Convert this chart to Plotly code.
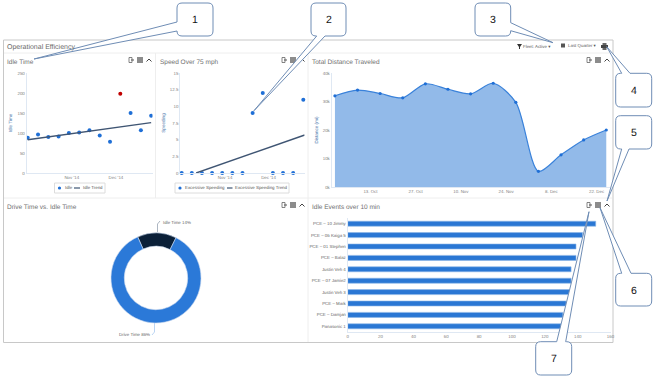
import plotly.graph_objects as go

W, H = 654, 377
FONT = "Liberation Sans"

# ---------- data ----------
weeks = ["2014-10-02", "2014-10-09", "2014-10-16", "2014-10-23", "2014-10-30", "2014-11-06", "2014-11-13",
         "2014-11-20", "2014-11-27", "2014-12-04", "2014-12-11", "2014-12-18", "2014-12-25"]
idle_values = [88, 96, 90, 91, 100, 101, 107, 94, 78, 198, 150, 107, 143]
idle_colors = ["#1f6fd6"] * 9 + ["#c00000"] + ["#1f6fd6"] * 3
idle_trend_x = ["2014-10-02", "2014-12-25"]
idle_trend_y = [83, 126]

speed_values = [0, 0, 0, 0, 0, 0, 0, 9, 12, 0, 0, 0, 11]
speed_trend_x = ["2014-10-12", "2014-12-26"]
speed_trend_y = [0, 5.7]

distance_values = [32000, 34000, 32800, 31300, 36200, 34300, 32700, 36400, 29700, 5500, 11300, 16500, 20000]
distance_ticks = ["2014-10-13", "2014-10-27", "2014-11-10", "2014-11-24", "2014-12-08", "2014-12-22"]
distance_labels = ["13. Oct", "27. Oct", "10. Nov", "24. Nov", "8. Dec", "22. Dec"]

month_ticks = ["2014-11-01", "2014-12-01"]
month_labels = ["Nov '14", "Dec '14"]

donut_labels = ["Idle Time", "Drive Time"]
donut_values = [14, 86]

vehicles = ["PCE – 10 Jimmy", "PCE – 06 Kaiga 5", "PCE – 01 Stephen", "PCE – Balaz", "Justin Veh 4",
            "PCE – 07 Jamie2", "Justin Veh 3", "PCE – Mark", "PCE – Damjan", "Panasonic 1"]
events = [151, 143, 139, 139, 136, 136, 135, 133, 131, 130]

titles = ["Operational Efficiency", "Idle Time", "Speed Over 75 mph", "Total Distance Traveled",
          "Drive Time vs. Idle Time", "Idle Events over 10 min"]


def px(x):
    return x / W


def py(y):
    return 1 - y / H


def dom_x(a, b):
    return [px(a), px(b)]


def dom_y(top, bottom):
    return [py(bottom), py(top)]


SMALL = 4.4
TICK = dict(size=SMALL, color="#808080", family=FONT)
AX_LINE = "#dfe8f3"
BLUE = "#1f6fd6"
TREND = "#3f5573"

fig = go.Figure()

# Idle Time
fig.add_trace(go.Scatter(x=weeks, y=idle_values, mode="markers", xaxis="x", yaxis="y", name="Idle",
                         marker=dict(size=4, color=idle_colors)))
fig.add_trace(go.Scatter(x=idle_trend_x, y=idle_trend_y, mode="lines", xaxis="x", yaxis="y", name="Idle Trend",
                         line=dict(color=TREND, width=1.4)))
# Speed
fig.add_trace(go.Scatter(x=weeks, y=speed_values, mode="markers", xaxis="x2", yaxis="y2", name="Excessive Speeding",
                         marker=dict(size=4, color=BLUE), cliponaxis=False))
fig.add_trace(go.Scatter(x=speed_trend_x, y=speed_trend_y, mode="lines", xaxis="x2", yaxis="y2",
                         name="Excessive Speeding Trend", line=dict(color=TREND, width=1.4)))
# Distance
fig.add_trace(go.Scatter(x=weeks, y=distance_values, mode="lines+markers", xaxis="x3", yaxis="y3",
                         name="Distance", fill="tozeroy", fillcolor="#92bae9",
                         line=dict(color="#3a82da", width=1.2, shape="spline", smoothing=0.8),
                         marker=dict(size=3.2, color=BLUE)))
# Bars
fig.add_trace(go.Bar(x=events, y=vehicles, orientation="h", xaxis="x4", yaxis="y4", name="Idle Events",
                     marker=dict(color="#2a77d4", line=dict(color="#8db7e8", width=0.6))))
# Donut
fig.add_trace(go.Pie(labels=donut_labels, values=donut_values, hole=0.705, rotation=-24, sort=False,
                     direction="clockwise", textinfo="none", showlegend=False,
                     marker=dict(colors=["#0b2038", "#2b79d8"], line=dict(color="#c9d9ee", width=0.6)),
                     domain=dict(x=dom_x(111, 201), y=dom_y(233, 323))))

date_axis = dict(type="date", tickmode="array", showgrid=False, zeroline=False, showline=True, linecolor=AX_LINE,
                 linewidth=1, ticks="", tickfont=TICK, ticklen=0)
val_axis = dict(showgrid=False, zeroline=False, showline=True, linecolor=AX_LINE, linewidth=1, ticks="", tickfont=TICK,
                tickmode="array")
AXT = dict(size=4.6, color="#3d6fa8", family=FONT)

layout = dict(
    width=W, height=H, margin=dict(l=0, r=0, t=0, b=0, pad=0, autoexpand=False), autosize=False,
    paper_bgcolor="white", plot_bgcolor="white",
    showlegend=False, bargap=0.56, font=dict(family=FONT),
    xaxis=dict(date_axis, domain=dom_x(26.7, 152.5), range=["2014-10-01 07:00", "2014-12-25 22:00"],
               tickvals=month_ticks, ticktext=month_labels, anchor="y"),
    yaxis=dict(val_axis, domain=dom_y(73, 173), range=[0, 250], tickvals=[0, 50, 100, 150, 200, 250], anchor="x",
               title=dict(text="Idle Time", font=AXT, standoff=4)),
    xaxis2=dict(date_axis, domain=dom_x(180.3, 304.5), range=["2014-10-01 01:00", "2014-12-25 20:00"],
                tickvals=month_ticks, ticktext=month_labels, anchor="y2"),
    yaxis2=dict(val_axis, domain=dom_y(73, 173), range=[0, 15], tickvals=[0, 2.5, 5, 7.5, 10, 12.5, 15],
                ticktext=["0", "2.5", "5", "7.5", "10", "12.5", "15"], anchor="x2",
                title=dict(text="Speeding", font=AXT, standoff=4)),
    xaxis3=dict(date_axis, domain=dom_x(331.7, 609.5), range=["2014-10-01", "2014-12-26"],
                tickvals=distance_ticks, ticktext=distance_labels, anchor="y3"),
    yaxis3=dict(val_axis, domain=dom_y(73, 187), range=[0, 40000], tickvals=[0, 10000, 20000, 30000, 40000],
                ticktext=["0k", "10k", "20k", "30k", "40k"], anchor="x3",
                title=dict(text="Distance (mi)", font=AXT, standoff=4)),
    xaxis4=dict(val_axis, domain=dom_x(347.7, 610.5), range=[0, 160], tickvals=list(range(0, 161, 20)), anchor="y4"),
    yaxis4=dict(val_axis, domain=dom_y(218, 332), autorange="reversed", anchor="x4", tickmode="linear", dtick=1,
                tickfont=dict(size=SMALL, color="#666666", family=FONT)),
)

shapes = []
annotations = []


def line(x0, y0, x1, y1, color, width=1, layer="below"):
    shapes.append(dict(type="line", xref="paper", yref="paper", x0=px(x0), y0=py(y0), x1=px(x1), y1=py(y1),
                       line=dict(color=color, width=width), layer=layer))


def rect(x0, y0, x1, y1, fill, color=None, width=0, layer="above"):
    shapes.append(dict(type="rect", xref="paper", yref="paper", x0=px(x0), y0=py(y0), x1=px(x1), y1=py(y1),
                       fillcolor=fill, line=dict(color=color or fill, width=width), layer=layer))


def text(x, y, s, size, color="#666666", anchor="left"):
    annotations.append(dict(xref="paper", yref="paper", x=px(x), y=py(y), text=s, showarrow=False, xanchor=anchor,
                            yanchor="middle", align=anchor, font=dict(size=size, color=color, family=FONT),
                            borderpad=0, bgcolor="rgba(0,0,0,0)"))


# frame and dividers
line(3.5, 40, 613, 40, "#c8c8c8")
line(3.5, 342.5, 613, 342.5, "#c8c8c8")
line(3.5, 40, 3.5, 342.5, "#c8c8c8")
line(613, 40, 613, 342.5, "#c8c8c8")
line(4, 53, 612, 53, "#eeeeee")
line(4, 198, 612, 198, "#eeeeee")
line(155.5, 53, 155.5, 198, "#eeeeee")
line(308, 53, 308, 342, "#eeeeee")

# titles
text(6, 47, titles[0], 7, "#6a6a6a")
text(6, 61.5, titles[1], 6.5, "#707070")
text(158.5, 61.5, titles[2], 6.5, "#707070")
text(311, 61.5, titles[3], 6.5, "#707070")
text(6, 206.5, titles[4], 6.5, "#707070")
text(311, 206.5, titles[5], 6.5, "#707070")


# panel icons
def icons(x_export, y):
    shapes.append(dict(type="path", xref="paper", yref="paper", layer="below",
                       path=f"M {px(x_export-2)} {py(y-2.5)} L {px(x_export+1)} {py(y-2.5)} L {px(x_export+1)} {py(y+2.5)} "
                            f"L {px(x_export-2)} {py(y+2.5)} Z",
                       line=dict(color="#666666", width=0.8), fillcolor="white"))
    line(x_export, y, x_export + 3, y, "#555555", 1)
    rect(x_export + 6, y - 3, x_export + 12, y + 3, "#8c8c8c", layer="below")
    shapes.append(dict(type="path", xref="paper", yref="paper", layer="below",
                       path=f"M {px(x_export+15.5)} {py(y+1.5)} L {px(x_export+18)} {py(y-1)} L {px(x_export+20.5)} {py(y+1.5)}",
                       line=dict(color="#444444", width=1)))


for ix, iy in [(131, 60), (284, 60), (589, 60), (284, 205), (589, 205)]:
    icons(ix, iy)

# header controls
shapes.append(dict(type="path", xref="paper", yref="paper", layer="below",
                   path=f"M {px(517)} {py(44)} L {px(522)} {py(44)} L {px(520)} {py(47)} L {px(520)} {py(49)} L {px(519)} {py(49)} L {px(519)} {py(47)} Z",
                   fillcolor="#333333", line=dict(width=0)))
text(522, 46.5, "Fleet: Active ▾", SMALL, "#555555")
rect(561, 43.5, 565, 47.5, "#555555", layer="below")
text(566.5, 46, "Last Quarter ▾", SMALL, "#555555")
rect(601, 45, 608, 48, "#444444", layer="below")
rect(602.5, 43, 606.5, 45, "#666666", layer="below")
rect(602.5, 48, 606.5, 50, "#666666", layer="below")


# manual compact legends
def legend_box(x0, x1, y0=183, y1=193):
    shapes.append(dict(type="rect", xref="paper", yref="paper", x0=px(x0), x1=px(x1), y0=py(y1), y1=py(y0),
                       line=dict(color="#dcdcdc", width=1), fillcolor="white", layer="below"))


def legend_dot(x, y=188):
    shapes.append(dict(type="circle", xref="paper", yref="paper", x0=px(x - 1.6), x1=px(x + 1.6), y0=py(y + 1.6),
                       y1=py(y - 1.6), fillcolor=BLUE, line=dict(width=0), layer="below"))


legend_box(54.5, 105)
legend_dot(59.5)
text(63.5, 188, "Idle", SMALL, "#555555")
line(74, 188, 80, 188, TREND, 1.2)
text(81.5, 188, "Idle Trend", SMALL, "#555555")

legend_box(175, 289)
legend_dot(180)
text(184, 188, "Excessive Speeding", SMALL, "#555555")
line(227, 188, 232.5, 188, TREND, 1.2)
text(234, 188, "Excessive Speeding Trend", SMALL, "#555555")

# donut labels and connectors
text(161.5, 222, f"{donut_labels[0]} {donut_values[0]}%", SMALL, "#666666")
shapes.append(dict(type="path", xref="paper", yref="paper", layer="below",
                   path=f"M {px(157.5)} {py(232)} L {px(157.5)} {py(224)} L {px(160)} {py(221)}",
                   line=dict(color="#8a97a8", width=0.7)))
text(151, 334.5, f"{donut_labels[1]} {donut_values[1]}%", SMALL, "#666666", anchor="right")
shapes.append(dict(type="path", xref="paper", yref="paper", layer="below",
                   path=f"M {px(154.5)} {py(323)} L {px(154.5)} {py(332)} L {px(152)} {py(335)}",
                   line=dict(color="#9fc3ee", width=0.7)))

# numbered callouts
CALL = "#6f8db5"


def callout(x0, y0, x1, y1, side, a, b, tip, label):
    """Rounded box with a pointer; a and b are positions along the given side."""
    r = 5
    p = [f"M {px(x0+r)} {py(y0)}"]
    tx, ty = tip
    if side == "top":
        p += [f"L {px(a)} {py(y0)} L {px(tx)} {py(ty)} L {px(b)} {py(y0)}"]
    p += [f"L {px(x1-r)} {py(y0)} Q {px(x1)} {py(y0)} {px(x1)} {py(y0+r)}"]
    if side == "right":
        p += [f"L {px(x1)} {py(a)} L {px(tx)} {py(ty)} L {px(x1)} {py(b)}"]
    p += [f"L {px(x1)} {py(y1-r)} Q {px(x1)} {py(y1)} {px(x1-r)} {py(y1)}"]
    if side == "bottom":
        p += [f"L {px(b)} {py(y1)} L {px(tx)} {py(ty)} L {px(a)} {py(y1)}"]
    p += [f"L {px(x0+r)} {py(y1)} Q {px(x0)} {py(y1)} {px(x0)} {py(y1-r)}"]
    if side == "left":
        p += [f"L {px(x0)} {py(b)} L {px(tx)} {py(ty)} L {px(x0)} {py(a)}"]
    p += [f"L {px(x0)} {py(y0+r)} Q {px(x0)} {py(y0)} {px(x0+r)} {py(y0)} Z"]
    shapes.append(dict(type="path", xref="paper", yref="paper", layer="above", path=" ".join(p),
                       fillcolor="white", line=dict(color=CALL, width=1)))
    text((x0 + x1) / 2, (y0 + y1) / 2, label, 10.5, "#111111", anchor="center")


callout(177, 3, 213, 36, "left", 22, 31, (34, 59), "1")
callout(311, 3, 346, 36, "bottom", 316.7, 325, (254, 110.7), "2")
callout(475, 3, 510.7, 36, "right", 22.7, 30.7, (553, 42.7), "3")
callout(615.7, 73.3, 651.7, 107, "top", 621.7, 630, (606.7, 46.7), "4")
callout(615.7, 115.7, 651.7, 149, "bottom", 621.7, 629, (607, 201), "5")
callout(615.7, 273.3, 651.7, 306, "top", 621.7, 631, (600, 207.7), "6")
callout(535.7, 341.7, 571.7, 375, "top", 556.7, 565.7, (589, 211.7), "7")

layout["shapes"] = shapes
layout["annotations"] = annotations
fig.update_layout(**layout)
fig.write_html("out.html", config=dict(displayModeBar=False),
               post_script="document.body.style.margin='0';document.documentElement.style.overflow='hidden';"
                           "var s=document.createElement('style');"
                           "s.textContent='text{text-rendering:geometricPrecision !important}';"
                           "document.head.appendChild(s);")
